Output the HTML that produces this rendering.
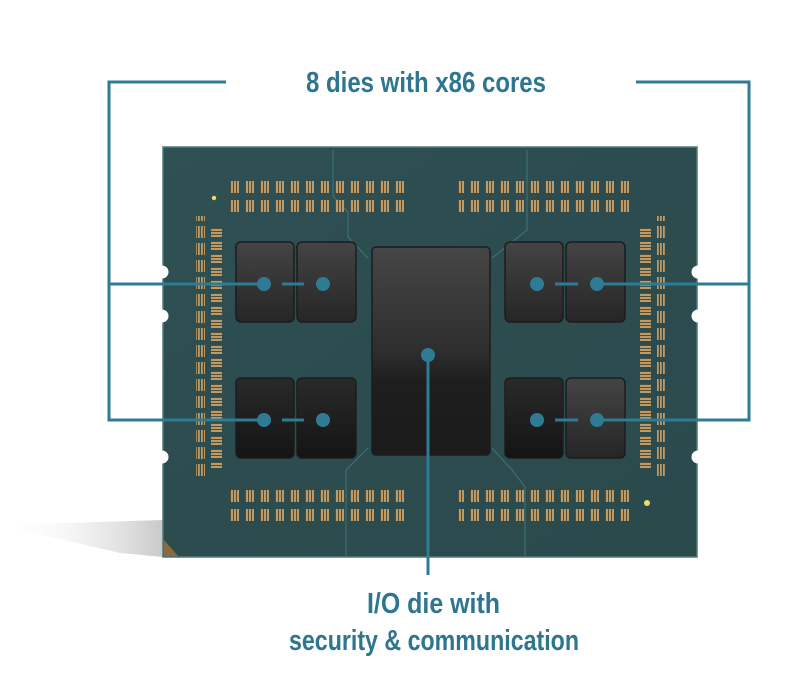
<!DOCTYPE html>
<html><head><meta charset="utf-8">
<style>
html,body{margin:0;padding:0;background:#fff;}
svg{display:block;}
.t{font-family:"Liberation Sans Narrow","Liberation Sans",sans-serif;font-weight:bold;fill:#2e7590;}
</style></head><body>
<svg width="796" height="692" viewBox="0 0 796 692" xmlns="http://www.w3.org/2000/svg">
<defs>
  <linearGradient id="pk" x1="0" y1="0" x2="1" y2="1">
    <stop offset="0" stop-color="#2f5153"/><stop offset="0.5" stop-color="#2c4c4f"/><stop offset="1" stop-color="#2a4a4c"/>
  </linearGradient>
  <linearGradient id="die" x1="0" y1="0" x2="0" y2="1">
    <stop offset="0" stop-color="#444"/><stop offset="1" stop-color="#262626"/>
  </linearGradient>
  <linearGradient id="die2" x1="0" y1="0" x2="0" y2="1">
    <stop offset="0" stop-color="#2a2a2a"/><stop offset="1" stop-color="#141414"/>
  </linearGradient>
  <linearGradient id="io" x1="0" y1="0" x2="0" y2="1">
    <stop offset="0" stop-color="#464646"/><stop offset="0.5" stop-color="#2e2e2e"/><stop offset="0.65" stop-color="#1e1e1e"/><stop offset="1" stop-color="#1b1b1b"/>
  </linearGradient>
  <linearGradient id="sh" x1="0" y1="0" x2="1" y2="0">
    <stop offset="0" stop-color="#fff" stop-opacity="0"/><stop offset="1" stop-color="#bbb"/>
  </linearGradient>
  <pattern id="pv" x="230" y="0" width="15" height="1" patternUnits="userSpaceOnUse">
    <rect x="0" y="0" width="9" height="1" fill="#4a5040"/>
    <rect x="1" y="0" width="2" height="1" fill="#c09a62"/>
    <rect x="4" y="0" width="2" height="1" fill="#c09a62"/>
    <rect x="7" y="0" width="2" height="1" fill="#c09a62"/>
  </pattern>
  <pattern id="ph" x="0" y="215" width="1" height="13" patternUnits="userSpaceOnUse">
    <rect x="0" y="0" width="1" height="9" fill="#4a5040"/>
    <rect x="0" y="1" width="1" height="2" fill="#c09a62"/>
    <rect x="0" y="4" width="1" height="2" fill="#c09a62"/>
    <rect x="0" y="7" width="1" height="2" fill="#c09a62"/>
  </pattern>
  <pattern id="pvv" x="0" y="225" width="1" height="17" patternUnits="userSpaceOnUse">
    <rect x="0" y="1" width="1" height="12" fill="#c09a62"/>
  </pattern>
  <pattern id="pvs" x="0" y="0" width="3" height="1" patternUnits="userSpaceOnUse">
    <rect x="0" y="0" width="1.8" height="1" fill="#fff"/>
  </pattern>
  <mask id="stripes"><rect x="0" y="0" width="796" height="692" fill="url(#pvs)"/></mask>
</defs>

<!-- shadow -->
<polygon points="0,525 163,520 163,557 120,553" fill="url(#sh)" opacity="0.8"/>

<!-- package -->
<rect x="163" y="147" width="534" height="410" fill="url(#pk)" stroke="#4f7b78" stroke-width="1.5"/>
<polygon points="164,556 164,540 178,556" fill="#8a6a40"/>

<!-- traces -->
<g stroke="#3d7775" stroke-width="1" fill="none">
<polyline points="333,150 333,196 348,212 348,237 368,258"/>
<polyline points="527,150 527,230 492,258"/>
<polyline points="368,448 346,470 346,556"/>
<polyline points="492,448 512,470 525,487 525,556"/>
</g>

<!-- top/bottom pad rows -->
<rect x="230" y="181" width="180" height="12" fill="url(#pv)"/>
<rect x="230" y="200" width="180" height="12" fill="url(#pv)"/>
<rect x="458" y="181" width="172" height="12" fill="url(#pv)"/>
<rect x="458" y="200" width="172" height="12" fill="url(#pv)"/>
<rect x="230" y="490" width="180" height="12" fill="url(#pv)"/>
<rect x="230" y="509" width="180" height="12" fill="url(#pv)"/>
<rect x="458" y="490" width="172" height="12" fill="url(#pv)"/>
<rect x="458" y="509" width="172" height="12" fill="url(#pv)"/>
<!-- side columns -->
<g mask="url(#stripes)">
<rect x="196" y="216" width="9" height="260" fill="url(#pvv)"/>
<rect x="656" y="216" width="9" height="260" fill="url(#pvv)"/>
</g>
<rect x="211" y="228" width="11" height="240" fill="url(#ph)"/>
<rect x="640" y="228" width="11" height="240" fill="url(#ph)"/>
<circle cx="214" cy="198" r="2.2" fill="#f2d774"/>
<circle cx="647" cy="503" r="3" fill="#f2d774"/>

<!-- notches -->
<g fill="#fff">
<circle cx="162" cy="272" r="6.5"/><circle cx="162" cy="316" r="6.5"/><circle cx="162" cy="457" r="6.5"/>
<circle cx="698" cy="272" r="6.5"/><circle cx="698" cy="316" r="6.5"/><circle cx="698" cy="457" r="6.5"/>
</g>

<!-- dies -->
<g stroke="#1c1c1c" stroke-width="1.5">
<rect x="236" y="242" width="58" height="80" rx="5" fill="url(#die)"/>
<rect x="297" y="242" width="59" height="80" rx="5" fill="url(#die)"/>
<rect x="505" y="242" width="58" height="80" rx="5" fill="url(#die)"/>
<rect x="566" y="242" width="59" height="80" rx="5" fill="url(#die)"/>
<rect x="236" y="378" width="58" height="80" rx="5" fill="url(#die2)"/>
<rect x="297" y="378" width="59" height="80" rx="5" fill="url(#die2)"/>
<rect x="505" y="378" width="58" height="80" rx="5" fill="url(#die2)"/>
<rect x="566" y="378" width="59" height="80" rx="5" fill="url(#die)"/>
<rect x="372" y="247" width="118" height="208" rx="4" fill="url(#io)"/>
</g>

<!-- connectors -->
<g stroke="#2f7b95" stroke-width="3" fill="none">
<polyline points="226,82 109,82 109,420 264,420"/>
<line x1="109" y1="284" x2="264" y2="284"/>
<polyline points="636,82 749,82 749,420 597,420"/>
<line x1="749" y1="284" x2="597" y2="284"/>
<line x1="282" y1="284" x2="304" y2="284"/>
<line x1="282" y1="420" x2="304" y2="420"/>
<line x1="555" y1="284" x2="578" y2="284"/>
<line x1="555" y1="420" x2="578" y2="420"/>
<line x1="428" y1="355" x2="428" y2="575"/>
</g>
<g fill="#2f7b95">
<circle cx="264" cy="284" r="7"/><circle cx="323" cy="284" r="7"/>
<circle cx="264" cy="420" r="7"/><circle cx="323" cy="420" r="7"/>
<circle cx="537" cy="284" r="7"/><circle cx="597" cy="284" r="7"/>
<circle cx="537" cy="420" r="7"/><circle cx="597" cy="420" r="7"/>
<circle cx="428" cy="355" r="7"/>
</g>

<text class="t" x="306" y="92" font-size="29" textLength="240" lengthAdjust="spacingAndGlyphs">8 dies with x86 cores</text>
<text class="t" x="367" y="613" font-size="29" textLength="133" lengthAdjust="spacingAndGlyphs">I/O die with</text>
<text class="t" x="289" y="650" font-size="29" textLength="290" lengthAdjust="spacingAndGlyphs">security &amp; communication</text>
</svg>
</body></html>
